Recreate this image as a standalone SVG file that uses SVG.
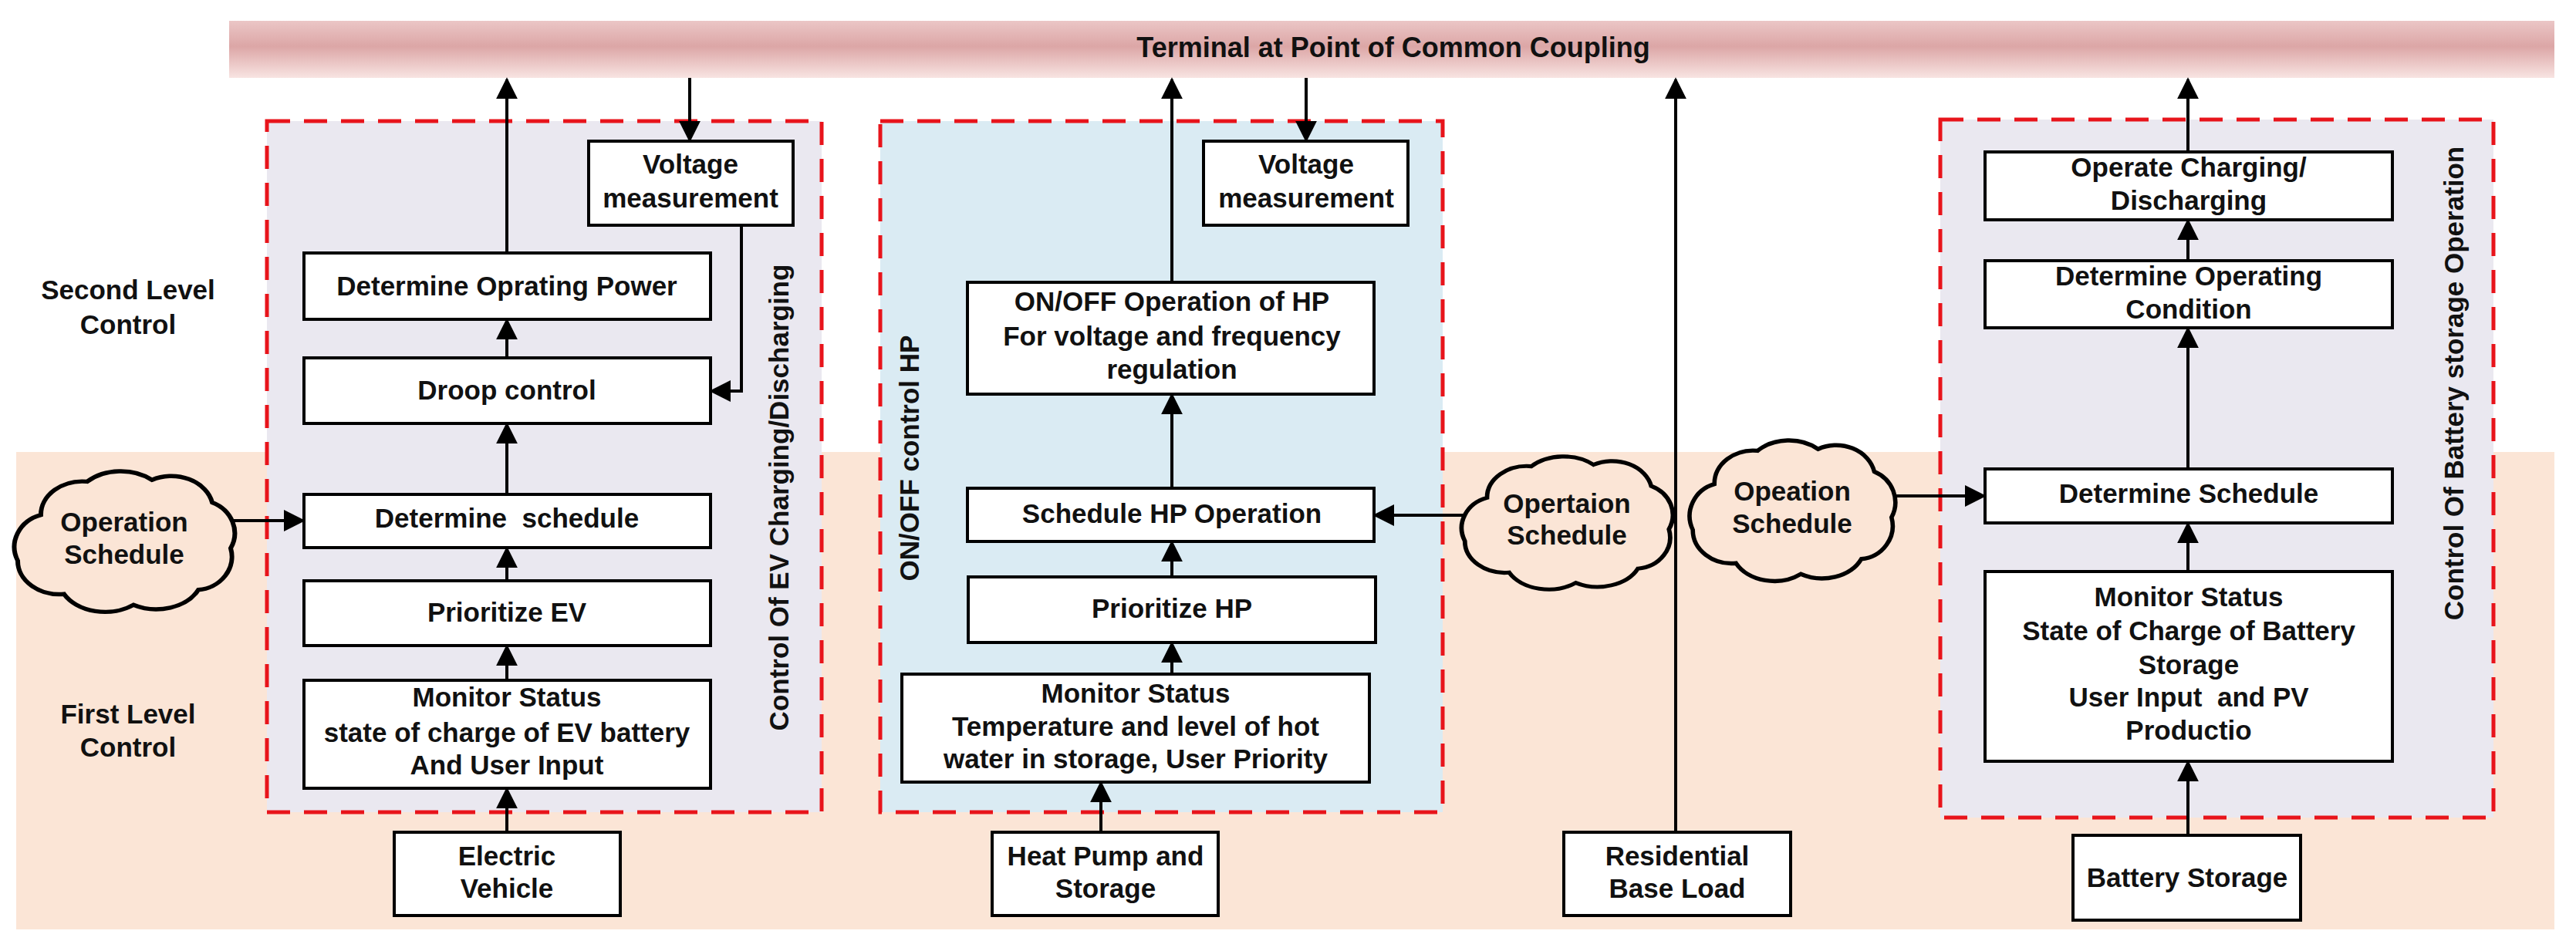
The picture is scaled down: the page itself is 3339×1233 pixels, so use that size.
<svg xmlns="http://www.w3.org/2000/svg" width="3339" height="1233" viewBox="0 0 3339 1233">
<defs>
<linearGradient id="bar" x1="0" y1="0" x2="0" y2="1">
<stop offset="0" stop-color="#EBC6C6"/><stop offset="0.45" stop-color="#DCA6A6"/><stop offset="1" stop-color="#F8E4E2"/>
</linearGradient>
<marker id="ah" viewBox="0 0 10 10" refX="9" refY="5" markerWidth="7" markerHeight="7" markerUnits="strokeWidth" orient="auto">
<path d="M0,0 L10,5 L0,10 Z" fill="#000"/>
</marker>
<path id="cloud" d="M -90,-30 A 45 40 0 0 1 -40,-70 A 50 40 0 0 1 30,-72 A 45 40 0 0 1 95,-45 A 40 40 0 0 1 115,10 A 40 40 0 0 1 80,60 A 50 40 0 0 1 10,78 A 50 40 0 0 1 -65,65 A 45 40 0 0 1 -115,25 A 40 40 0 0 1 -90,-30 Z"/>
</defs>
<style>
.box{fill:#fff;stroke:#000;stroke-width:4}
.dash{stroke:#E8141B;stroke-width:5;stroke-dasharray:30,18}
.t{font-family:"Liberation Sans",Arial,sans-serif;font-weight:bold;font-size:35px;fill:#111;text-anchor:middle}
.c{stroke:#000;stroke-width:4;fill:none;marker-end:url(#ah)}
.cl{fill:#FBE5D6;stroke:#000;stroke-width:5}
</style>
<rect width="3339" height="1233" fill="#fff"/>
<rect x="21" y="586" width="3290" height="619" fill="#FBE5D6"/>
<rect id="pcc" x="297" y="27" width="3014" height="74" fill="url(#bar)"/>
<text class="t" x="1806" y="74" style="font-size:36px">Terminal at Point of Common Coupling</text>
<text class="t" x="166" y="388">Second Level</text>
<text class="t" x="166" y="433">Control</text>
<text class="t" x="166" y="938">First Level</text>
<text class="t" x="166" y="981">Control</text>

<g id="ev-group">
<rect class="dash" x="346" y="157" width="719" height="896" fill="#EAE8F0"/>
<text class="t" transform="translate(1022,645) rotate(-90)">Control Of EV Charging/Discharging</text>
</g>
<g id="hp-group">
<rect class="dash" x="1141" y="157" width="729" height="896" fill="#DAEBF3"/>
<text class="t" transform="translate(1191,594) rotate(-90)">ON/OFF control HP</text>
</g>
<g id="bat-group">
<rect class="dash" x="2515" y="155" width="717" height="905" fill="#EAE8F0"/>
<text class="t" transform="translate(3193,497) rotate(-90)">Control Of Battery storage Operation</text>
</g>

<g id="connectors">
<path class="c" d="M657,328 V103"/>
<path class="c" d="M894,101 V182"/>
<path class="c" d="M961,292 V507 H922"/>
<path class="c" d="M657,464 V415"/>
<path class="c" d="M657,641 V550"/>
<path class="c" d="M657,753 V711"/>
<path class="c" d="M657,882 V838"/>
<path class="c" d="M657,1079 V1023"/>
<path class="c" d="M288,675 H393"/>
<path class="c" d="M1519,366 V103"/>
<path class="c" d="M1693,101 V182"/>
<path class="c" d="M1519,633 V512"/>
<path class="c" d="M1519,748 V703"/>
<path class="c" d="M1519,874 V834"/>
<path class="c" d="M1427,1079 V1015"/>
<path class="c" d="M1907,668 H1782"/>
<path class="c" d="M2172,1079 V103"/>
<path class="c" d="M2836,197 V103"/>
<path class="c" d="M2836,338 V286"/>
<path class="c" d="M2836,608 V426"/>
<path class="c" d="M2836,741 V679"/>
<path class="c" d="M2836,1083 V988"/>
<path class="c" d="M2443,643 H2572"/>
</g>

<g id="ev-vm"><rect class="box" x="763" y="183" width="265" height="109"/><text class="t" x="895" y="225">Voltage</text><text class="t" x="895" y="269">measurement</text></g>
<g id="ev-dop"><rect class="box" x="394" y="328" width="527" height="86"/><text class="t" x="657" y="383">Determine Oprating Power</text></g>
<g id="ev-droop"><rect class="box" x="394" y="464" width="527" height="85"/><text class="t" x="657" y="518">Droop control</text></g>
<g id="ev-sched"><rect class="box" x="394" y="641" width="527" height="69"/><text class="t" x="657" y="684" xml:space="preserve">Determine  schedule</text></g>
<g id="ev-prio"><rect class="box" x="394" y="753" width="527" height="84"/><text class="t" x="657" y="806">Prioritize EV</text></g>
<g id="ev-mon"><rect class="box" x="394" y="882" width="527" height="140"/><text class="t" x="657" y="916">Monitor Status</text><text class="t" x="657" y="962">state of charge of EV battery</text><text class="t" x="657" y="1004">And User Input</text></g>
<g id="ev"><rect class="box" x="511" y="1079" width="293" height="108"/><text class="t" x="657" y="1122">Electric</text><text class="t" x="657" y="1164">Vehicle</text></g>
<g id="cloud-ev"><use href="#cloud" class="cl" transform="translate(161,700) scale(1.2,1.08)"/><text class="t" x="161" y="689">Operation</text><text class="t" x="161" y="731">Schedule</text></g>

<g id="hp-vm"><rect class="box" x="1560" y="183" width="265" height="109"/><text class="t" x="1693" y="225">Voltage</text><text class="t" x="1693" y="269">measurement</text></g>
<g id="hp-onoff"><rect class="box" x="1254" y="366" width="527" height="145"/><text class="t" x="1519" y="403">ON/OFF Operation of HP</text><text class="t" x="1519" y="448">For voltage and frequency</text><text class="t" x="1519" y="491">regulation</text></g>
<g id="hp-sched"><rect class="box" x="1254" y="633" width="527" height="69"/><text class="t" x="1519" y="678">Schedule HP Operation</text></g>
<g id="hp-prio"><rect class="box" x="1255" y="748" width="528" height="85"/><text class="t" x="1519" y="801">Prioritize HP</text></g>
<g id="hp-mon"><rect class="box" x="1169" y="874" width="606" height="140"/><text class="t" x="1472" y="911">Monitor Status</text><text class="t" x="1472" y="954">Temperature and level of hot</text><text class="t" x="1472" y="996">water in storage, User Priority</text></g>
<g id="hp"><rect class="box" x="1286" y="1079" width="293" height="108"/><text class="t" x="1433" y="1122">Heat Pump and</text><text class="t" x="1433" y="1164">Storage</text></g>
<g id="cloud-hp"><use href="#cloud" class="cl" transform="translate(2031,676) scale(1.15,1.02)"/><text class="t" x="2031" y="665">Opertaion</text><text class="t" x="2031" y="706">Schedule</text></g>

<g id="res"><rect class="box" x="2027" y="1079" width="294" height="108"/><text class="t" x="2174" y="1122">Residential</text><text class="t" x="2174" y="1164">Base Load</text></g>

<g id="bat-op"><rect class="box" x="2573" y="197" width="528" height="88"/><text class="t" x="2837" y="229">Operate Charging/</text><text class="t" x="2837" y="272">Discharging</text></g>
<g id="bat-cond"><rect class="box" x="2573" y="338" width="528" height="87"/><text class="t" x="2837" y="370">Determine Operating</text><text class="t" x="2837" y="413">Condition</text></g>
<g id="bat-sched"><rect class="box" x="2573" y="608" width="528" height="70"/><text class="t" x="2837" y="652">Determine Schedule</text></g>
<g id="bat-mon"><rect class="box" x="2573" y="741" width="528" height="246"/><text class="t" x="2837" y="786">Monitor Status</text><text class="t" x="2837" y="830">State of Charge of Battery</text><text class="t" x="2837" y="874">Storage</text><text class="t" x="2837" y="916" xml:space="preserve">User Input  and PV</text><text class="t" x="2837" y="959">Productio</text></g>
<g id="bat"><rect class="box" x="2687" y="1083" width="295" height="110"/><text class="t" x="2835" y="1150">Battery Storage</text></g>
<g id="cloud-bat"><use href="#cloud" class="cl" transform="translate(2323,660) scale(1.12,1.08)"/><text class="t" x="2323" y="649">Opeation</text><text class="t" x="2323" y="691">Schedule</text></g>
</svg>
